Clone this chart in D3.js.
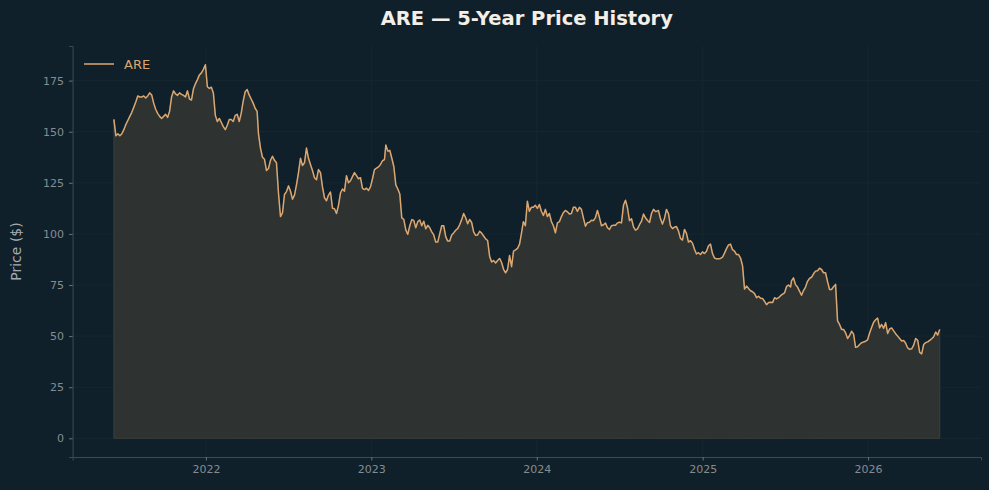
<!DOCTYPE html>
<html>
<head>
<meta charset="utf-8">
<script src="https://cdn.jsdelivr.net/npm/d3@7"></script>
<style>
  html, body { margin: 0; padding: 0; background: #10202a; }
  svg { display: block; font-family: "DejaVu Sans", sans-serif; }
</style>
</head>
<body>
<div id="chart"></div>
<script>
// ARE daily close in six stretches (values evenly spread inside each stretch)
var segStart = ["2021-06-12", "2022-04-27", "2023-02-02", "2023-11-28", "2024-09-21", "2025-07-16"];
var segEnd   = ["2022-04-24", "2023-01-30", "2023-11-24", "2024-09-19", "2025-07-14", "2026-06-08"];

var seg1 = [156, 148, 149, 148, 149, 151, 153.5, 155.5, 157.5, 159.5, 162, 164.5, 167.5, 167, 167, 167.5,
  166.5, 167.5, 169, 168, 164, 161, 159, 157.5, 156.5, 157.5, 158.5, 157, 160, 167, 170, 168.5, 167.8,
  169, 168.3, 167.8, 167, 170, 166, 165.5, 171, 173.5, 175.5, 177.8, 178.8, 180.5, 182.8, 172, 171.2,
  171.8, 169, 158, 155, 156.5, 154.5, 152.5, 151, 153.2, 156, 156, 155, 158, 158.5, 155, 159, 165,
  169.5, 170.6, 168, 166, 164, 161.5, 160];
var seg2 = [149, 142, 137.5, 136.5, 131, 132, 136, 138, 136, 134.8, 120, 108.5, 110.3, 119.3, 120.7,
  123.5, 121, 117, 119, 124, 130, 137, 133.5, 134.8, 142, 137, 134, 131, 127.5, 126.5, 131.5, 130, 123,
  117.7, 116.2, 119, 120.5, 112.6, 112.3, 110, 114, 120, 122, 120.9, 128.5, 125, 126, 128, 130, 128.5,
  127, 127.5, 122.3, 121.7, 122.4, 121.3, 123, 127, 131.5, 132.2, 132.8, 134, 135.8, 136.4];
var seg3 = [143.5, 140.5, 140.9, 137, 133, 124, 122, 119.5, 107.8, 107.1, 102, 99.8, 104, 107, 106.6,
  103, 106, 106.8, 104, 106.2, 102.5, 104.2, 103, 101, 99.5, 96, 96, 100, 104, 104, 98.7, 96.5, 96.5,
  99.5, 100.5, 101.8, 102.6, 104.5, 107, 110, 107.9, 105, 107.1, 105.6, 101, 99.3, 99.5, 101.3, 100.4,
  99, 97.6, 96.8, 89.1, 86.3, 87, 85.8, 87, 88, 86, 82.7, 81, 82.6, 89.5, 84, 91.6, 92.2, 92.9, 95];
var seg4 = [100, 106, 104, 116, 111.1, 113, 113, 114, 112.5, 114.4, 111.1, 109, 112, 108.5, 110, 106,
  104, 100.5, 105.4, 106, 108.5, 110.5, 111.5, 110.8, 109.7, 110, 113, 113, 111, 113, 112, 107.7, 103.8,
  105.5, 105.7, 106.7, 106.5, 108, 111.5, 108, 104, 104.5, 105.3, 103, 102.2, 104, 104.2, 104.2, 105.4,
  105.7, 105.4, 114, 116.5, 112.8, 106.5, 107.4, 103.5, 101.8, 102.5, 104.5, 106.2, 109.7, 107.9, 106.6,
  105.6, 110, 112, 111];
var seg5 = [111, 111.5, 107.5, 104.8, 107.5, 112, 110, 104, 102.6, 103.3, 103.6, 101.5, 97.8, 97, 102.2,
  100.3, 96, 96.7, 95.5, 92.5, 90.2, 90.8, 89.9, 91.2, 90.4, 91.5, 94.2, 95, 90.4, 88.2, 87.8, 87.8, 88,
  88.6, 90.6, 92.8, 94.6, 95, 92.3, 91.6, 89.9, 89.9, 88.2, 84.5, 73, 74.5, 73.3, 72.2, 71.7, 70.8, 68.8,
  69.5, 68.5, 68.4, 67, 65.4, 66.4, 66.6, 66.4, 68.8, 68.2, 68.8, 69.8, 70.5, 71.2, 74.3, 75, 74];
var seg6 = [77, 78.5, 75.2, 74, 72, 70, 72.3, 74, 76.8, 78.2, 78.8, 80.5, 81.8, 82, 83.2, 82.6, 81, 81,
  76.7, 72.8, 72.8, 74.2, 75.3, 57.5, 55.7, 53.3, 53.3, 51.6, 48.8, 50.3, 52.4, 51, 44.5, 44.8, 45.9,
  46.8, 47.1, 47.5, 48.2, 51.5, 54.2, 56.8, 58, 58.8, 54, 55.7, 53.8, 56.6, 51.3, 53.5, 54, 52.6, 51.2,
  50, 48.8, 47.6, 47.9, 46.5, 44.2, 43.5, 43.8, 45.6, 48.8, 48, 42, 41.3, 45.9, 46.8, 47.2, 47.9, 48.7,
  49.7, 52, 50.5, 53.3];
var segValues = [seg1, seg2, seg3, seg4, seg5, seg6];

var yTicks = [0, 25, 50, 75, 100, 125, 150, 175];
var xTickYears = [2022, 2023, 2024, 2025, 2026];
var ticker = "ARE";
var titleText = "ARE \u2014 5-Year Price History";
var yLabel = "Price ($)";

var lineColor = "#dba771";

var width = 989, height = 490;
var margin = {top: 46, right: 8, bottom: 33, left: 72.6};

var parse = d3.timeParse("%Y-%m-%d");
var data = [];
segValues.forEach(function(vals, s){
  var t0 = parse(segStart[s]).getTime(), t1 = parse(segEnd[s]).getTime();
  vals.forEach(function(v, i){
    var f = vals.length > 1 ? i / (vals.length - 1) : 0;
    data.push({date: new Date(t0 + f * (t1 - t0)), value: v});
  });
});

var svg = d3.select("#chart").append("svg")
  .attr("width", width)
  .attr("height", height);

svg.append("rect").attr("width", width).attr("height", height).attr("fill", "#10202a");

// matplotlib style 5% padding on both axes
var tExt = d3.extent(data, function(d){ return d.date; });
var tPad = (tExt[1] - tExt[0]) * 0.05;
var vMax = d3.max(data, function(d){ return d.value; });

var x = d3.scaleTime()
  .domain([new Date(tExt[0].getTime() - tPad), new Date(tExt[1].getTime() + tPad)])
  .range([margin.left, width - margin.right]);

var y = d3.scaleLinear()
  .domain([-vMax * 0.05, vMax * 1.05])
  .range([height - margin.bottom, margin.top]);

var xTicks = xTickYears.map(function(yr){ return new Date(yr, 0, 1); });

// grid
var grid = svg.append("g").attr("class", "grid");
grid.selectAll(".gx").data(xTicks).enter().append("line")
  .attr("x1", function(d){ return x(d); }).attr("x2", function(d){ return x(d); })
  .attr("y1", margin.top).attr("y2", height - margin.bottom)
  .attr("stroke", "#19282f").attr("stroke-width", 0.8);
grid.selectAll(".gy").data(yTicks).enter().append("line")
  .attr("x1", margin.left).attr("x2", width - margin.right)
  .attr("y1", function(d){ return y(d); }).attr("y2", function(d){ return y(d); })
  .attr("stroke", "#19282f").attr("stroke-width", 0.8);

// area under price
var area = d3.area()
  .x(function(d){ return x(d.date); })
  .y0(y(0))
  .y1(function(d){ return y(d.value); });

svg.append("path")
  .datum(data)
  .attr("d", area)
  .attr("fill", "#2e3332")
  .attr("stroke", "#3a3f3d")
  .attr("stroke-width", 1);

var line = d3.line()
  .x(function(d){ return x(d.date); })
  .y(function(d){ return y(d.value); });

svg.append("path")
  .datum(data)
  .attr("d", line)
  .attr("fill", "none")
  .attr("stroke", lineColor)
  .attr("stroke-width", 1.5)
  .attr("stroke-linejoin", "round");

// axes
var xAxis = svg.append("g")
  .attr("transform", "translate(0," + (height - margin.bottom) + ")")
  .call(d3.axisBottom(x).tickValues(xTicks).tickFormat(d3.timeFormat("%Y")).tickSizeOuter(0).tickSize(3.5).tickPadding(5));

var yAxis = svg.append("g")
  .attr("transform", "translate(" + margin.left + ",0)")
  .call(d3.axisLeft(y).tickValues(yTicks).tickSizeOuter(0).tickSize(3.5).tickPadding(5));

[xAxis, yAxis].forEach(function(ax){
  ax.select(".domain").attr("stroke", "#3d4a50").attr("stroke-width", 1);
  ax.selectAll(".tick line").attr("stroke", "#6b7378");
  ax.selectAll(".tick text").attr("fill", "#858c91").attr("font-size", "11px")
    .attr("font-family", "DejaVu Sans, sans-serif");
});

// y label
svg.append("text")
  .attr("transform", "translate(21," + ((margin.top + height - margin.bottom) / 2) + ") rotate(-90)")
  .attr("text-anchor", "middle")
  .attr("fill", "#a4abb0")
  .attr("font-size", "14px")
  .text(yLabel);

// title
svg.append("text")
  .attr("x", (margin.left + width - margin.right) / 2)
  .attr("y", 25)
  .attr("text-anchor", "middle")
  .attr("fill", "#f2eee8")
  .attr("font-size", "19.5px")
  .attr("font-weight", "bold")
  .text(titleText);

// legend
var legend = svg.append("g");
legend.append("line")
  .attr("x1", 84).attr("x2", 114).attr("y1", 64).attr("y2", 64)
  .attr("stroke", lineColor).attr("stroke-width", 1.5);
legend.append("text")
  .attr("x", 124).attr("y", 69)
  .attr("fill", lineColor)
  .attr("font-size", "13px")
  .text(ticker);
</script>
</body>
</html>
